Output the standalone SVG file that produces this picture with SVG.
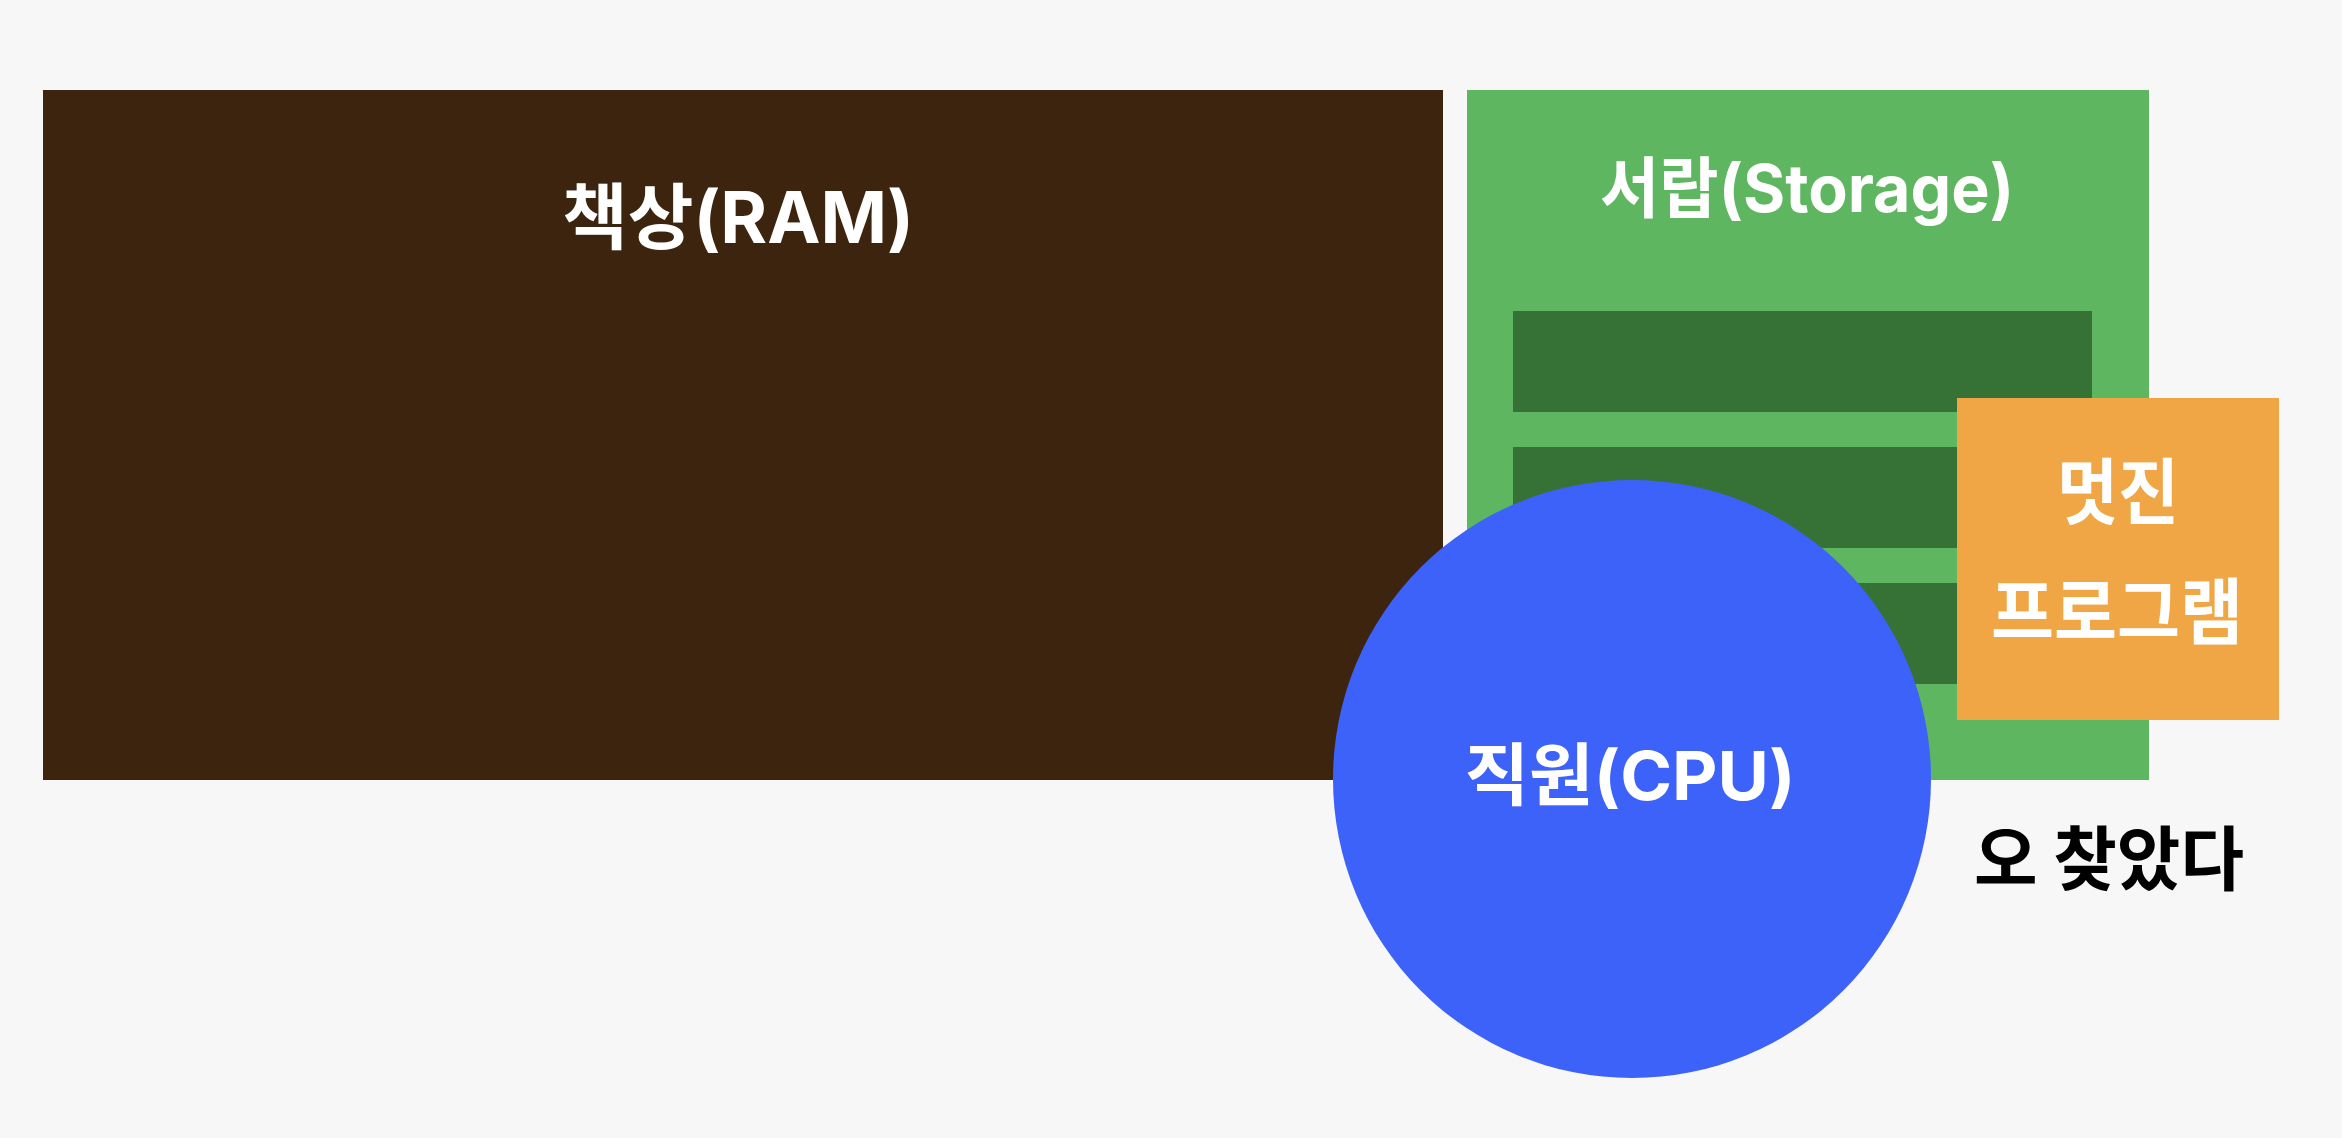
<svg xmlns="http://www.w3.org/2000/svg" width="2342" height="1138" viewBox="0 0 2342 1138">
<style>
.lbl{font-family:Inter,"Noto Sans CJK KR","Noto Sans",sans-serif;font-weight:700;fill:#ffffff;text-anchor:middle}
.shelf{fill:#367136}
</style>
<rect x="0" y="0" width="2342" height="1138" fill="#f7f7f7"/>
<g id="ram">
<rect x="43" y="90" width="1400" height="690" fill="#3c240e"/>
<text class="lbl" x="738" y="243" font-size="72" textLength="352" lengthAdjust="spacingAndGlyphs">책상(RAM)</text>
</g>
<g id="storage">
<rect x="1467" y="90" width="682" height="690" fill="#5fb660"/>
<text class="lbl" x="1807" y="212" font-size="66" textLength="414" lengthAdjust="spacingAndGlyphs">서랍(Storage)</text>
<rect class="shelf" x="1513" y="311" width="579" height="101"/>
<rect class="shelf" x="1513" y="447" width="579" height="101"/>
<rect class="shelf" x="1513" y="583" width="579" height="101"/>
</g>
<g id="cpu">
<circle cx="1632" cy="779" r="299" fill="#3c62f9"/>
<text class="lbl" x="1630" y="800" font-size="68" textLength="331" lengthAdjust="spacingAndGlyphs">직원(CPU)</text>
</g>
<g id="program">
<rect x="1957" y="398" width="322" height="322" fill="#f0a645"/>
<text class="lbl" x="2118" y="518" font-size="72" textLength="122" lengthAdjust="spacingAndGlyphs">멋진</text>
<text class="lbl" x="2117" y="638" font-size="72" textLength="252" lengthAdjust="spacingAndGlyphs">프로그램</text>
</g>
<g id="found">
<text x="2109" y="885" font-size="70" font-family="Noto Sans CJK KR, sans-serif" font-weight="700" fill="#000000" text-anchor="middle" textLength="270" lengthAdjust="spacingAndGlyphs">오 찾았다</text>
</g>
<g id="connectors"></g>
</svg>
